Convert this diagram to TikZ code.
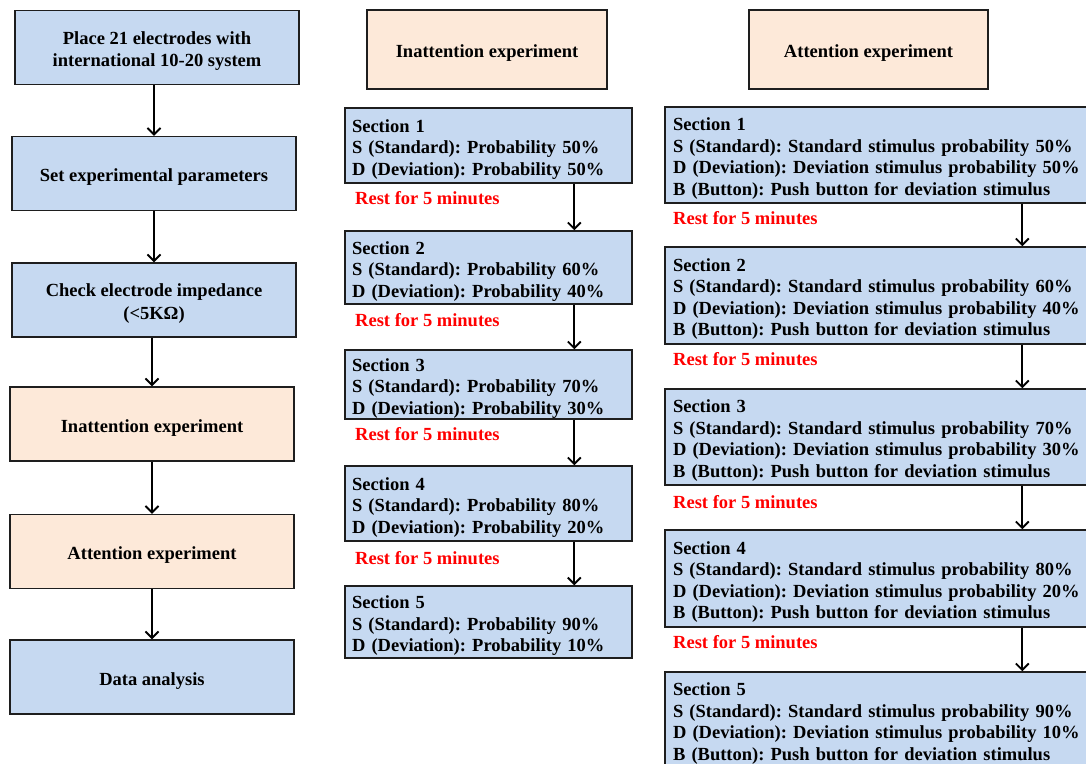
\documentclass[tikz,border=0pt]{standalone}
\usepackage{fontspec}
\setmainfont{Liberation Serif}
\usetikzlibrary{arrows.meta}
\definecolor{boxblue}{RGB}{198,217,241}
\definecolor{boxpeach}{RGB}{253,233,217}
\definecolor{restred}{RGB}{255,0,0}
\definecolor{edge}{RGB}{30,30,30}
\newcommand{\dropstrut}{\rule{0pt}{20pt}}
\tikzset{
  base/.style={draw=edge, line width=1.4pt, rectangle, inner sep=0pt,
    font=\fontsize{18.5}{21.5}\selectfont\bfseries\frenchspacing,
    execute at begin node=\dropstrut},
  leftbox/.style={base, fill=boxblue, minimum width=284pt, minimum height=74pt, align=center,
    font=\fontsize{18.5}{22.5}\selectfont\bfseries\frenchspacing},
  peachbox/.style={base, fill=boxpeach, minimum height=74pt, align=center},
  midsec/.style={base, fill=boxblue, minimum width=287pt, text width=273pt, align=left, inner xsep=7pt},
  rightsec/.style={base, fill=boxblue, minimum width=425pt, text width=409pt, align=left, inner xsep=8pt},
  rest/.style={anchor=west, inner sep=0pt, text=restred, font=\fontsize{18.5}{21}\selectfont\bfseries},
  arr/.style={draw=black, line width=1.9pt, -{Straight Barb[length=6.5pt,width=13pt,line width=1.9pt]}}
}
\begin{document}
\begin{tikzpicture}[x=1pt,y=-1pt]
\useasboundingbox (0,0) rectangle (1086,763);
\clip (0,0) rectangle (1086,763);
% left column
\node[leftbox] (l1) at (157,47.5) {\dropstrut Place 21 electrodes with\\international 10-20 system};
\node[leftbox] (l2) at (154,173.5) {Set experimental parameters};
\node[leftbox] (l3) at (154,300) {\dropstrut Check electrode impedance\\(<5KΩ)};
\node[peachbox, minimum width=284pt] (l4) at (152,424) {Inattention experiment};
\node[peachbox, minimum width=284pt] (l5) at (152,551.5) {Attention experiment};
\node[leftbox] (l6) at (152,677) {Data analysis};
\draw[arr] ([xshift=-3pt]l1.south) -- ([xshift=-3pt]l1.south |- l2.north);
\draw[arr] (l2.south) -- (l2.south |- l3.north);
\draw[arr] ([xshift=-2pt]l3.south) -- ([xshift=-2pt]l3.south |- l4.north);
\draw[arr] (l4.south) -- (l4.south |- l5.north);
\draw[arr] (l5.south) -- (l5.south |- l6.north);
% headers
\node[peachbox, minimum width=240pt, minimum height=79pt] (h1) at (487,49.5) {Inattention experiment};
\node[peachbox, minimum width=239pt, minimum height=79pt] (h2) at (868.5,49.5) {Attention experiment};
% middle column
\node[midsec, minimum height=75pt] (m1) at (488.5,145.5) {Section 1\\S (Standard): Probability 50\%\\D (Deviation): Probability 50\%};
\node[midsec, minimum height=73pt] (m2) at (488.5,267.5) {Section 2\\S (Standard): Probability 60\%\\D (Deviation): Probability 40\%};
\node[midsec, minimum height=69pt] (m3) at (488.5,384.5) {Section 3\\S (Standard): Probability 70\%\\D (Deviation): Probability 30\%};
\node[midsec, minimum height=75pt] (m4) at (488.5,503.5) {Section 4\\S (Standard): Probability 80\%\\D (Deviation): Probability 20\%};
\node[midsec, minimum height=72pt] (m5) at (488.5,622) {Section 5\\S (Standard): Probability 90\%\\D (Deviation): Probability 10\%};
\node[rest] (mr1) at (355,198) {Rest for 5 minutes};
\node[rest] (mr2) at (355,320) {Rest for 5 minutes};
\node[rest] (mr3) at (355,434) {Rest for 5 minutes};
\node[rest] (mr4) at (355,558) {Rest for 5 minutes};
\foreach \a/\b in {m1/m2,m2/m3,m3/m4,m4/m5}
  \draw[arr] ([xshift=230pt]\a.south west) -- ([xshift=230pt]\b.north west);
% right column
\node[rightsec, minimum height=96pt] (r1) at (877.5,155) {Section 1\\S (Standard): Standard stimulus probability 50\%\\D (Deviation): Deviation stimulus probability 50\%\\B (Button): Push button for deviation stimulus};
\node[rightsec, minimum height=97pt] (r2) at (877.5,295.5) {Section 2\\S (Standard): Standard stimulus probability 60\%\\D (Deviation): Deviation stimulus probability 40\%\\B (Button): Push button for deviation stimulus};
\node[rightsec, minimum height=96pt] (r3) at (877.5,437) {Section 3\\S (Standard): Standard stimulus probability 70\%\\D (Deviation): Deviation stimulus probability 30\%\\B (Button): Push button for deviation stimulus};
\node[rightsec, minimum height=97pt] (r4) at (877.5,578.5) {Section 4\\S (Standard): Standard stimulus probability 80\%\\D (Deviation): Deviation stimulus probability 20\%\\B (Button): Push button for deviation stimulus};
\node[rightsec, minimum height=96pt] (r5) at (877.5,720) {Section 5\\S (Standard): Standard stimulus probability 90\%\\D (Deviation): Deviation stimulus probability 10\%\\B (Button): Push button for deviation stimulus};
\node[rest] (rr1) at (673,218) {Rest for 5 minutes};
\node[rest] (rr2) at (673,359) {Rest for 5 minutes};
\node[rest] (rr3) at (673,502) {Rest for 5 minutes};
\node[rest] (rr4) at (673,642) {Rest for 5 minutes};
\foreach \a/\b in {r1/r2,r2/r3,r3/r4,r4/r5}
  \draw[arr] ([xshift=358pt]\a.south west) -- ([xshift=358pt]\b.north west);
\end{tikzpicture}
\end{document}
